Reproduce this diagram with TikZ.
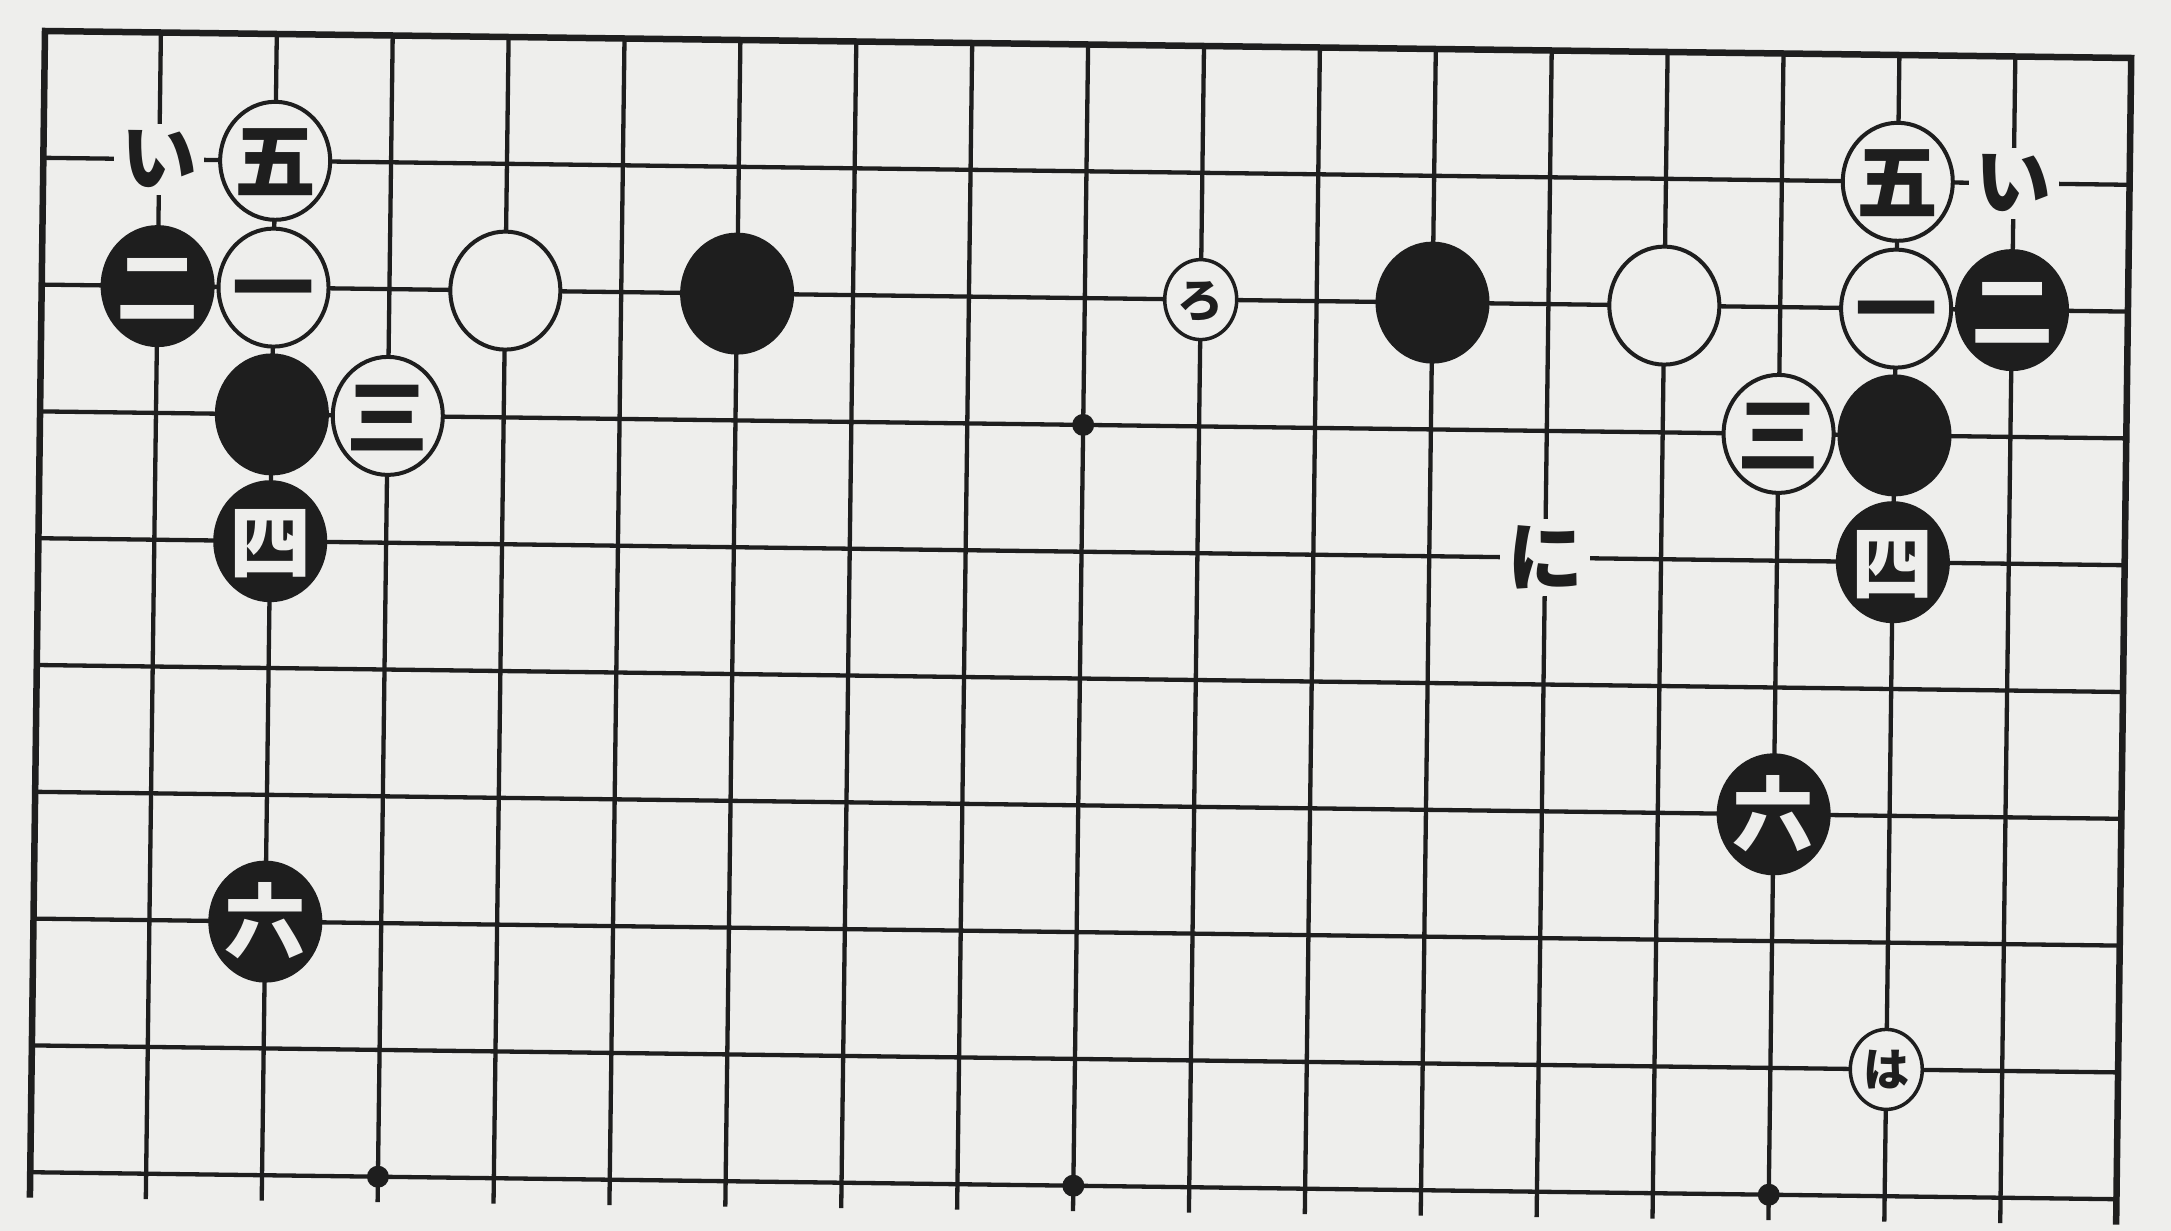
\documentclass[tikz,border=0pt]{standalone}
\usepackage{fontspec}
\newfontfamily\cjk{Noto Sans CJK JP}
\usetikzlibrary{shapes.geometric}
\definecolor{paper}{RGB}{238,238,236}
\definecolor{ink}{RGB}{30,30,30}
\newcommand\gotxt[1]{\raisebox{-0.38em}[0pt][0pt]{\makebox[0pt][c]{#1}}}
\tikzset{
  gridline/.style={draw=ink, line width=4.3pt},
  edgeline/.style={draw=ink, line width=6.5pt, line join=miter},
  stonebase/.style={ellipse, minimum width=110pt, minimum height=118pt, inner sep=0pt, line width=4pt,
    font=\cjk\bfseries\fontsize{82}{82}\selectfont},
  wstone/.style={stonebase, draw=ink, fill=paper, text=ink},
  bstone/.style={stonebase, draw=ink, fill=ink, text=paper},
  smallring/.style={ellipse, draw=ink, fill=paper, line width=3.5pt, minimum width=72pt, minimum height=80pt,
    inner sep=0pt, text=ink, font=\cjk\bfseries\fontsize{46}{46}\selectfont},
  kana/.style={fill=paper, inner sep=7pt, text=ink, font=\cjk\bfseries\fontsize{76}{76}\selectfont},
  starpt/.style={circle, fill=ink, minimum size=22pt, inner sep=0pt},
}
\begin{document}
\begin{tikzpicture}[x=1pt,y=1pt]
\fill[paper] (0,0) rectangle (2171,-1231);
\useasboundingbox (0,0) rectangle (2171,-1231);
\begin{scope}[shift={(-69.26,97.3)}, x={(115.9pt,-1.5pt)}, y={(-1.64pt,-126.8pt)}]
  % grid
  \foreach \r in {2,...,10} \draw[gridline] (1,\r) -- (19,\r);
  \foreach \c in {2,...,18} \draw[gridline] (\c,1) -- (\c,10.2);
  \draw[edgeline] (1,10.2) -- (1,1) -- (19,1) -- (19,10.2);
  % star points
  \node[starpt] (h1) at (10,4) {};
  \node[starpt] (h2) at (4,10) {};
  \node[starpt] (h3) at (10,10) {};
  \node[starpt] (h4) at (16,10) {};
  % left corner
  \node[kana] (iL) at (2,2) {い};
  \node[wstone] (L5) at (3,2) {\gotxt{五}};
  \node[bstone] (L2) at (2,3) {\gotxt{二}};
  \node[wstone] (L1) at (3,3) {\gotxt{一}};
  \node[wstone] (Lw) at (5,3) {};
  \node[bstone] (Lb) at (7,3) {};
  \node[bstone] (Lb4) at (3,4) {};
  \node[wstone] (L3) at (4,4) {\gotxt{三}};
  \node[bstone] (L4) at (3,5) {\gotxt{四}};
  \node[bstone] (L6) at (3,8) {\gotxt{六}};
  % middle
  \node[smallring] (ro) at (11,3) {\gotxt{ろ}};
  \node[bstone] (Rb) at (13,3) {};
  \node[wstone] (Rw) at (15,3) {};
  \node[kana] (ni) at (14,5) {に};
  % right corner
  \node[wstone] (R5) at (17,2) {\gotxt{五}};
  \node[kana] (iR) at (18,2) {い};
  \node[wstone] (R1) at (17,3) {\gotxt{一}};
  \node[bstone] (R2) at (18,3) {\gotxt{二}};
  \node[wstone] (R3) at (16,4) {\gotxt{三}};
  \node[bstone] (Rb4) at (17,4) {};
  \node[bstone] (R4) at (17,5) {\gotxt{四}};
  \node[bstone] (R6) at (16,7) {\gotxt{六}};
  \node[smallring] (ha) at (17,9) {\gotxt{は}};
\end{scope}
\end{tikzpicture}
\end{document}
